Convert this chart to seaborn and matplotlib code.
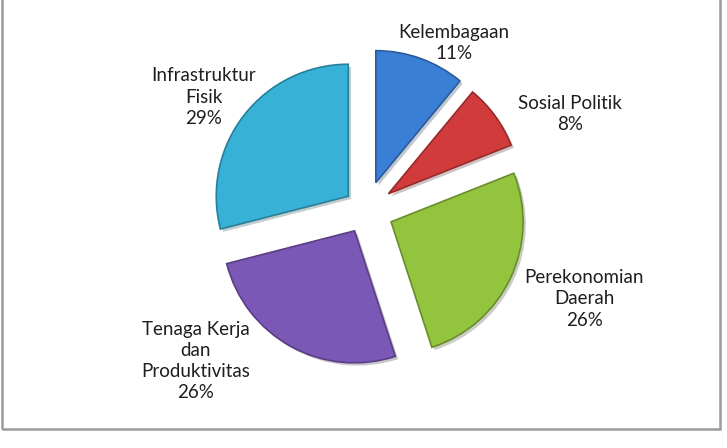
import numpy as np
import matplotlib
matplotlib.use("Agg")
import matplotlib.pyplot as plt
import matplotlib.colors as mcolors
import matplotlib.patches as mpatches
import matplotlib.patheffects as pe
import seaborn as sns

# data
categories = ["Kelembagaan", "Sosial Politik", "Perekonomian\nDaerah",
              "Tenaga Kerja\ndan\nProduktivitas", "Infrastruktur\nFisik"]
shares = [11, 8, 26, 26, 29]
colors = ["#3a7fd6", "#d23b3b", "#92c43e", "#7b57b6", "#38b1d6"]

# label placement (in pie-radius units, relative to pie centre)
label_xy = [(0.667, 1.265), (1.545, 0.727), (1.652, -0.674),
            (-1.288, -1.144), (-1.227, 0.856)]

sns.set_style("white")
plt.rcParams["font.family"] = ["Lato", "DejaVu Sans"]

W, H = 727, 448
fig = plt.figure(figsize=(W / 100, H / 100), dpi=100)
ax = fig.add_axes([0, 0, 1, 1])

R = 132.0          # pie radius in px
cx, cy = 366, 210  # pie centre in px (from top-left)

edge = [mcolors.to_hex(np.array(mcolors.to_rgb(c)) * 0.72) for c in colors]
wedges, _ = ax.pie(
    shares,
    startangle=90,
    counterclock=False,
    explode=[0.22, 0.21, 0.21, 0.18, 0.17],
    colors=colors,
    wedgeprops=dict(linewidth=1.2),
)
for w, ec in zip(wedges, edge):
    w.set_edgecolor(ec)
    w.set_path_effects([pe.SimplePatchShadow(offset=(2, -2), alpha=0.25), pe.Normal()])

for lab, val, (lx, ly) in zip(categories, shares, label_xy):
    ax.text(lx, ly, f"{lab}\n{val}%", ha="center", va="center",
            fontsize=13.5, color="#1e1e1e", linespacing=1.3)

ax.set_xlim(-cx / R, (W - cx) / R)
ax.set_ylim(-(H - cy) / R, cy / R)
ax.set_aspect("auto")
ax.axis("off")

# chart-area border
fig.patches.append(mpatches.Rectangle(
    (2 / W, (H - 429) / H), (720 - 2) / W, 1.0, transform=fig.transFigure,
    fill=False, edgecolor="#9a9a9a", linewidth=1.8, zorder=10))

fig.savefig("out.png", dpi=100)
plt.close(fig)
